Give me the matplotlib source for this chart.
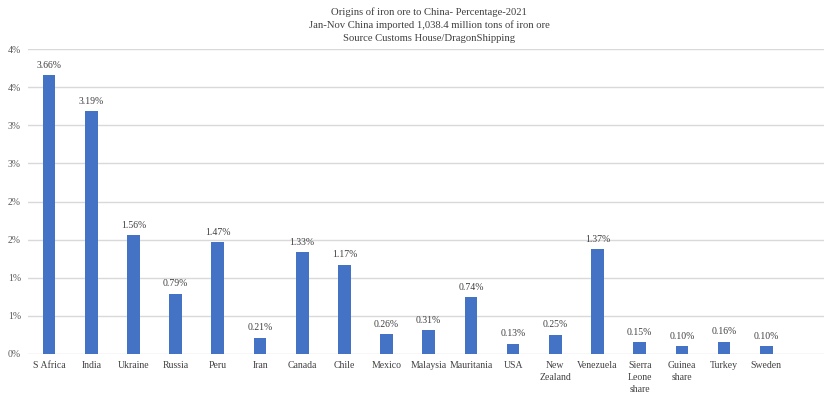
import matplotlib
matplotlib.use('Agg')
import matplotlib.pyplot as plt

countries = ['S Africa', 'India', 'Ukraine', 'Russia', 'Peru', 'Iran', 'Canada', 'Chile', 'Mexico',
             'Malaysia', 'Mauritania', 'USA', 'New\nZealand', 'Venezuela', 'Sierra\nLeone\nshare',
             'Guinea\nshare', 'Turkey', 'Sweden']
share = [3.66, 3.19, 1.56, 0.79, 1.47, 0.21, 1.33, 1.17, 0.26,
         0.31, 0.74, 0.13, 0.25, 1.37, 0.15, 0.10, 0.16, 0.10]
y_ticks = [0, 0.5, 1.0, 1.5, 2.0, 2.5, 3.0, 3.5, 4.0]
y_tick_labels = ['0%', '1%', '1%', '2%', '2%', '3%', '3%', '4%', '4%']

title_lines = ['Origins of iron ore to China- Percentage-2021',
               'Jan-Nov China imported 1,038.4 million tons of iron ore',
               'Source Customs House/DragonShipping']

plt.rcParams['font.family'] = ['Liberation Serif', 'DejaVu Serif']

fig = plt.figure(figsize=(8.24, 3.96), dpi=100)
ax = fig.add_axes([28 / 824, 42.3 / 396, 1 - 28 / 824, 304.4 / 396])

x = list(range(len(countries)))
ax.bar(x, share, width=0.3, color='#4472C4', zorder=3)

# value labels above bars
for xi, v in zip(x, share):
    ax.text(xi, v + 0.07, '%.2f%%' % v, ha='center', va='bottom', fontsize=7, color='#404040')

ax.set_xlim(-0.5, 18.37)
ax.set_ylim(0, 4)
ax.set_yticks(y_ticks)
ax.set_yticklabels(y_tick_labels, fontsize=7, color='#595959')
ax.set_xticks(x)
ax.set_xticklabels(countries, fontsize=7, color='#404040', linespacing=1.45)
ax.tick_params(axis='both', length=0)
ax.tick_params(axis='x', pad=5)
ax.tick_params(axis='y', pad=5)
ax.grid(axis='y', color='#D9D9D9', linewidth=1, zorder=0)
for s in ax.spines.values():
    s.set_visible(False)

fig.text(429 / 824, 1 - 25 / 396, '\n'.join(title_lines), ha='center', va='center',
         fontsize=7.7, color='#404040', linespacing=1.45)

fig.savefig('out.png', dpi=100)
